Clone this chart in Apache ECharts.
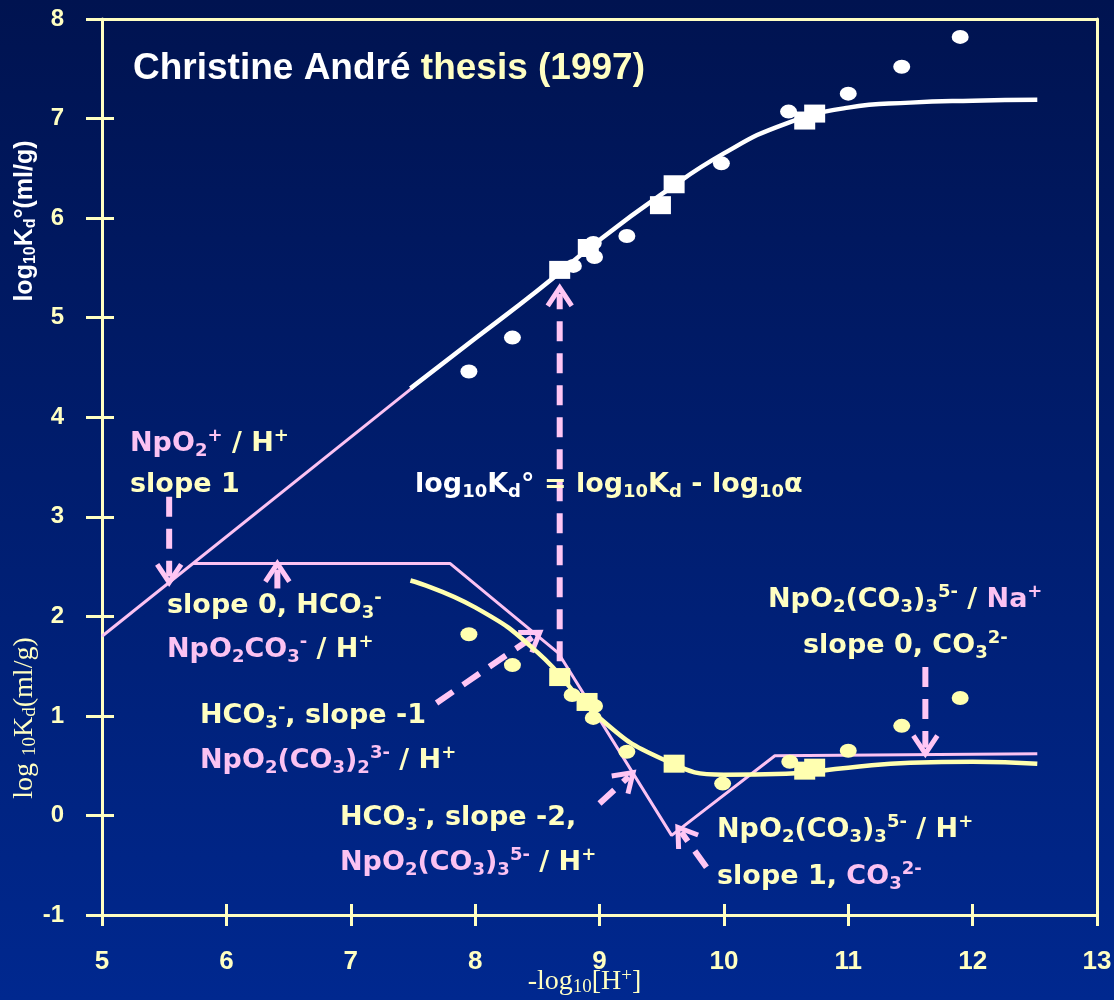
<!DOCTYPE html>
<html>
<head>
<meta charset="utf-8">
<script src="https://cdn.jsdelivr.net/npm/echarts@6/dist/echarts.min.js"></script>
<style>
html,body{margin:0;padding:0;background:#001a6a;}
#chart{width:1114px;height:1000px;background:linear-gradient(#001350,#00268f);}
</style>
</head>
<body>
<div id="chart"></div>
<script>
// ---------- data ----------
const xTickValues = [5, 6, 7, 8, 9, 10, 11, 12, 13];
const yTickValues = [-1, 0, 1, 2, 3, 4, 5, 6, 7, 8];

// upper model curve: log10 Kd° (white)
const fitKdoX = [7.48, 8.0, 8.5, 9.0, 9.5, 10.0, 10.5, 11.0, 11.5, 12.0, 12.52];
const fitKdoY = [4.29, 4.79, 5.27, 5.78, 6.24, 6.65, 6.95, 7.11, 7.16, 7.18, 7.19];

// lower model curve: log10 Kd (yellow)
const fitKdX = [7.48, 8.0, 8.5, 9.0, 9.5, 10.0, 10.5, 11.0, 11.5, 12.0, 12.52];
const fitKdY = [2.36, 2.09, 1.64, 0.98, 0.57, 0.41, 0.42, 0.48, 0.53, 0.54, 0.52];

// measured points
const kdoCircleX = [7.95, 8.30, 8.79, 8.95, 8.96, 9.22, 9.98, 10.52, 11.0, 11.43, 11.9];
const kdoCircleY = [4.46, 4.80, 5.52, 5.75, 5.61, 5.82, 6.55, 7.07, 7.25, 7.52, 7.82];
const kdoSquareX = [8.68, 8.91, 9.49, 9.60, 10.65, 10.73];
const kdoSquareY = [5.48, 5.70, 6.13, 6.34, 6.98, 7.05];
const kdCircleX = [7.95, 8.30, 8.78, 8.95, 8.96, 9.22, 9.99, 10.53, 11.0, 11.43, 11.9];
const kdCircleY = [1.82, 1.51, 1.21, 0.98, 1.10, 0.64, 0.32, 0.54, 0.65, 0.90, 1.18];
const kdSquareX = [8.68, 8.90, 9.60, 10.65, 10.73];
const kdSquareY = [1.39, 1.14, 0.52, 0.45, 0.48];

// pink asymptotes
const slopeOneX = [5.0, 7.5];
const slopeOneY = [1.8, 4.3];
const limitX = [5.73, 7.8, 8.67, 9.58, 10.41, 12.52];
const limitY = [2.53, 2.53, 1.63, -0.2, 0.6, 0.62];

// pink arrows (tail -> head), 1 = dashed
const arrowTailX = [5.54, 6.41, 8.68, 7.69, 9.00, 9.86, 11.62];
const arrowTailY = [3.20, 2.28, 1.55, 1.13, 0.12, -0.52, 1.49];
const arrowHeadX = [5.54, 6.41, 8.68, 8.52, 9.27, 9.63, 11.62];
const arrowHeadY = [2.34, 2.53, 5.30, 1.84, 0.43, -0.12, 0.62];
const arrowDashed = [1, 0, 1, 1, 1, 1, 1];

// ---------- styles ----------
const CREAM = '#FFFFC2';
const PINK = '#FBC2F2';
const WHITE = '#FFFFFF';
const YELLOW = '#FFFFB0';
const ARROW = '#FFC6F4';
const SANS = '"Liberation Sans", Arial, sans-serif';
const NARROW = '"Liberation Sans Narrow", "Arial Narrow", "Liberation Sans", sans-serif';
const WIDE = '"DejaVu Sans", "Liberation Sans", sans-serif';
const SERIF = '"Liberation Serif", "Times New Roman", serif';

const pair = (xs, ys) => xs.map((x, i) => [x, ys[i]]);
const arrowData = arrowTailX.map((x, i) => [x, arrowTailY[i], arrowHeadX[i], arrowHeadY[i], arrowDashed[i]]);

function tok(fill, size, lh, va) {
  const o = { fill: fill, color: fill, fontFamily: WIDE, fontWeight: 'bold', fontSize: size, lineHeight: lh };
  if (va) o.verticalAlign = va;
  return o;
}
const RICH = {
  c: tok(CREAM, 27, 33), p: tok(PINK, 27, 33), w: tok(WHITE, 27, 33),
  cs: tok(CREAM, 18, 18, 'bottom'), cu: tok(CREAM, 18, 18, 'top'),
  ps: tok(PINK, 18, 18, 'bottom'), pu: tok(PINK, 18, 18, 'top'),
  ws: tok(WHITE, 18, 18, 'bottom'), wu: tok(WHITE, 18, 18, 'top')
};

function note(x, y, text) {
  return {
    type: 'text', x: x, y: y, z: 100, silent: true,
    style: { text: text, rich: RICH, align: 'left', verticalAlign: 'middle',
             textAlign: 'left', textVerticalAlign: 'middle', fill: CREAM,
             fontFamily: WIDE, fontWeight: 'bold', fontSize: 27 }
  };
}

function renderArrow(params, api) {
  const p1 = api.coord([api.value(0), api.value(1)]);
  const p2 = api.coord([api.value(2), api.value(3)]);
  const dashed = api.value(4) === 1;
  const ang = Math.atan2(p2[1] - p1[1], p2[0] - p1[0]);
  const ca = Math.cos(ang), sa = Math.sin(ang);
  const L = 18, Wd = 12;
  const bx = p2[0] - L * ca, by = p2[1] - L * sa;
  const nx = -sa, ny = ca;
  return {
    type: 'group',
    children: [
      { type: 'line',
        shape: { x1: p1[0], y1: p1[1], x2: p2[0] - 6 * ca, y2: p2[1] - 6 * sa },
        style: { stroke: ARROW, lineWidth: 6, lineDash: dashed ? [20, 12] : null, fill: null } },
      { type: 'polyline',
        shape: { points: [[bx + Wd * nx, by + Wd * ny], [p2[0], p2[1]], [bx - Wd * nx, by - Wd * ny]] },
        style: { stroke: ARROW, lineWidth: 5, fill: null, lineJoin: 'miter' } }
    ]
  };
}

const xMin = xTickValues[0], xMax = xTickValues[xTickValues.length - 1];
const yMin = yTickValues[0], yMax = yTickValues[yTickValues.length - 1];
const xStep = xTickValues[1] - xTickValues[0];
const yStep = yTickValues[1] - yTickValues[0];

const axisLineStyle = { color: CREAM, width: 3 };
const baseX = { type: 'value', min: xMin, max: xMax, interval: xStep, splitLine: { show: false } };
const baseY = { type: 'value', min: yMin, max: yMax, interval: yStep, splitLine: { show: false } };

const chart = echarts.init(document.getElementById('chart'), null, { renderer: 'canvas' });
chart.setOption({
  animation: false,
  backgroundColor: {
    type: 'linear', x: 0, y: 0, x2: 0, y2: 1,
    colorStops: [{ offset: 0, color: '#001350' }, { offset: 1, color: '#00288F' }]
  },
  title: {
    text: '{w|Christine André }{c|thesis (1997)}',
    left: 133, top: 48, padding: 0,
    textStyle: {
      rich: {
        w: { color: WHITE, fontFamily: SANS, fontWeight: 'bold', fontSize: 37, lineHeight: 42 },
        c: { color: CREAM, fontFamily: SANS, fontWeight: 'bold', fontSize: 37, lineHeight: 42 }
      }
    }
  },
  grid: { left: 102, right: 17, top: 19, bottom: 85, containLabel: false, outerBoundsMode: 'none' },
  xAxis: [
    Object.assign({}, baseX, {
      position: 'bottom',
      axisLine: { show: true, onZero: false, lineStyle: axisLineStyle },
      axisTick: { show: true, inside: false, length: 11, lineStyle: axisLineStyle },
      axisLabel: { show: true, margin: 34, color: CREAM, fontFamily: NARROW, fontWeight: 'bold', fontSize: 26 },
      name: '{n|-log}{s|10}{n|[H}{u|+}{n|]}',
      nameLocation: 'middle', nameGap: 52, nameMoveOverlap: false,
      nameTextStyle: {
        padding: [0, 30, 0, 0],
        rich: {
          n: { color: CREAM, fontFamily: SERIF, fontSize: 28, lineHeight: 30 },
          s: { color: CREAM, fontFamily: SERIF, fontSize: 19, lineHeight: 19, verticalAlign: 'bottom' },
          u: { color: CREAM, fontFamily: SERIF, fontSize: 19, lineHeight: 19, verticalAlign: 'top' }
        }
      }
    }),
    Object.assign({}, baseX, {
      position: 'bottom',
      axisLine: { show: false, onZero: false },
      axisTick: { show: true, inside: true, length: 11, lineStyle: axisLineStyle },
      axisLabel: { show: false }
    }),
    Object.assign({}, baseX, {
      position: 'top',
      axisLine: { show: true, onZero: false, lineStyle: axisLineStyle },
      axisTick: { show: false }, axisLabel: { show: false }
    })
  ],
  yAxis: [
    Object.assign({}, baseY, {
      position: 'left',
      axisLine: { show: true, onZero: false, lineStyle: axisLineStyle },
      axisTick: { show: true, inside: false, length: 16, lineStyle: axisLineStyle },
      axisLabel: { show: true, margin: 38, color: CREAM, fontFamily: SANS, fontWeight: 'bold', fontSize: 24 }
    }),
    Object.assign({}, baseY, {
      position: 'left',
      axisLine: { show: false, onZero: false },
      axisTick: { show: true, inside: true, length: 12, lineStyle: axisLineStyle },
      axisLabel: { show: false }
    }),
    Object.assign({}, baseY, {
      position: 'right',
      axisLine: { show: true, onZero: false, lineStyle: axisLineStyle },
      axisTick: { show: false }, axisLabel: { show: false }
    })
  ],
  series: [
    { type: 'line', name: 'NpO2+ / H+ slope 1', data: pair(slopeOneX, slopeOneY), symbol: 'none',
      lineStyle: { color: PINK, width: 3 }, silent: true, z: 2 },
    { type: 'line', name: 'asymptotes', data: pair(limitX, limitY), symbol: 'none',
      lineStyle: { color: PINK, width: 3 }, silent: true, z: 2 },
    { type: 'custom', name: 'arrows', renderItem: renderArrow, data: arrowData,
      dimensions: ['x1', 'y1', 'x2', 'y2', 'd'], encode: { x: [0, 2], y: [1, 3] }, silent: true, z: 3 },
    { type: 'line', name: 'log10 Kd° model', data: pair(fitKdoX, fitKdoY), symbol: 'none',
      smooth: 0.5, lineStyle: { color: WHITE, width: 4.5 }, silent: true, z: 4 },
    { type: 'line', name: 'log10 Kd model', data: pair(fitKdX, fitKdY), symbol: 'none',
      smooth: 0.5, lineStyle: { color: YELLOW, width: 4.5 }, silent: true, z: 4 },
    { type: 'scatter', name: 'Kd° circles', data: pair(kdoCircleX, kdoCircleY), symbol: 'circle',
      symbolSize: [17, 14], itemStyle: { color: WHITE, opacity: 1 }, silent: true, z: 5 },
    { type: 'scatter', name: 'Kd° squares', data: pair(kdoSquareX, kdoSquareY), symbol: 'rect',
      symbolSize: [21, 18], itemStyle: { color: WHITE, opacity: 1 }, silent: true, z: 6 },
    { type: 'scatter', name: 'Kd circles', data: pair(kdCircleX, kdCircleY), symbol: 'circle',
      symbolSize: [17, 14], itemStyle: { color: YELLOW, opacity: 1 }, silent: true, z: 5 },
    { type: 'scatter', name: 'Kd squares', data: pair(kdSquareX, kdSquareY), symbol: 'rect',
      symbolSize: [21, 18], itemStyle: { color: YELLOW, opacity: 1 }, silent: true, z: 6 }
  ],
  graphic: [
    note(130, 444, '{p|NpO}{ps|2}{pu|+}{c| / H}{cu|+}'),
    note(130, 485, '{c|slope 1}'),
    note(167, 606, '{c|slope 0, HCO}{cs|3}{cu|-}'),
    note(167, 650, '{p|NpO}{ps|2}{p|CO}{ps|3}{pu|-}{c| / H}{cu|+}'),
    note(200, 716, '{c|HCO}{cs|3}{cu|-}{c|, slope -1}'),
    note(200, 761, '{p|NpO}{ps|2}{p|(CO}{ps|3}{p|)}{ps|2}{pu|3-}{c| / H}{cu|+}'),
    note(340, 818, '{c|HCO}{cs|3}{cu|-}{c|, slope -2,}'),
    note(340, 863, '{p|NpO}{ps|2}{p|(CO}{ps|3}{p|)}{ps|3}{pu|5-}{c| / H}{cu|+}'),
    note(717, 830, '{c|NpO}{cs|2}{c|(CO}{cs|3}{c|)}{cs|3}{cu|5-}{c| / H}{cu|+}'),
    note(717, 877, '{c|slope 1, }{p|CO}{ps|3}{pu|2-}'),
    note(768, 600, '{c|NpO}{cs|2}{c|(CO}{cs|3}{c|)}{cs|3}{cu|5-}{c| / }{p|Na}{pu|+}'),
    note(803, 646, '{c|slope 0, CO}{cs|3}{cu|2-}'),
    note(415, 485, '{w|log}{ws|10}{w|K}{ws|d}{w|°}{c| = log}{cs|10}{c|K}{cs|d}{c| - log}{cs|10}{c|α}'),
    {
      type: 'text', x: 25, y: 221, rotation: Math.PI / 2, z: 100, silent: true,
      style: {
        text: '{w|log}{s|10}{w|K}{s|d}{w|°(ml/g)}', align: 'center', verticalAlign: 'middle',
        textAlign: 'center', textVerticalAlign: 'middle', fill: WHITE,
        rich: {
          w: { fill: WHITE, color: WHITE, fontFamily: SANS, fontWeight: 'bold', fontSize: 25, lineHeight: 28 },
          s: { fill: WHITE, color: WHITE, fontFamily: SANS, fontWeight: 'bold', fontSize: 16, lineHeight: 16, verticalAlign: 'bottom' }
        }
      }
    },
    {
      type: 'text', x: 25, y: 718, rotation: Math.PI / 2, z: 100, silent: true,
      style: {
        text: '{n|log }{s|10}{n|K}{s|d}{n|(ml/g)}', align: 'center', verticalAlign: 'middle',
        textAlign: 'center', textVerticalAlign: 'middle', fill: CREAM,
        rich: {
          n: { fill: CREAM, color: CREAM, fontFamily: SERIF, fontSize: 28, lineHeight: 30 },
          s: { fill: CREAM, color: CREAM, fontFamily: SERIF, fontSize: 19, lineHeight: 19, verticalAlign: 'bottom' }
        }
      }
    }
  ]
});
</script>
</body>
</html>
